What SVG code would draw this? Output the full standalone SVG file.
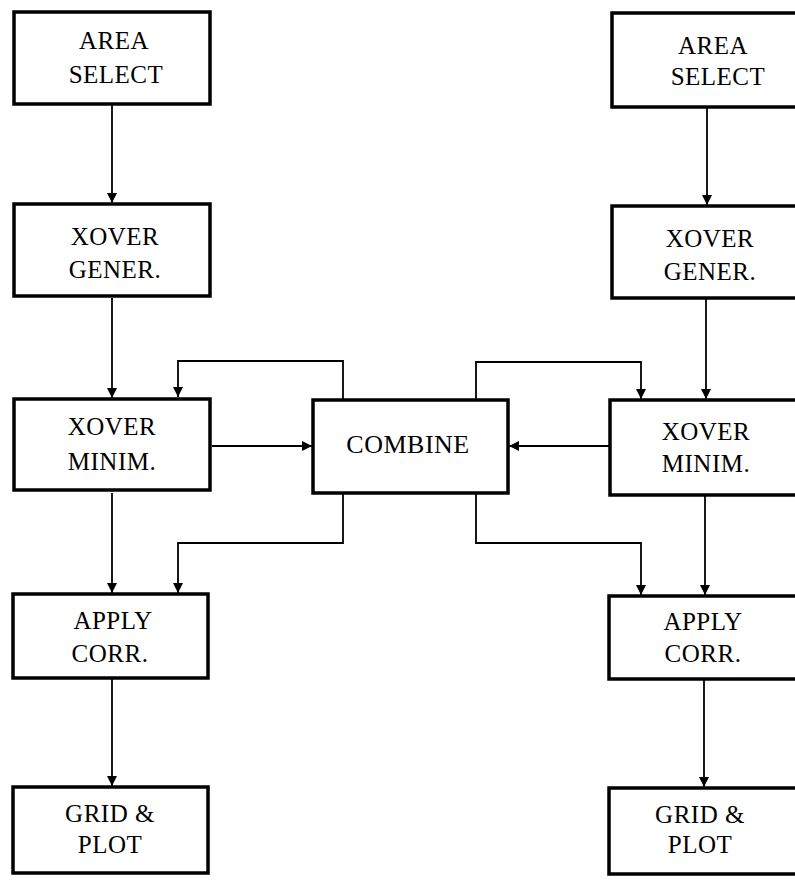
<svg xmlns="http://www.w3.org/2000/svg" width="795" height="881" viewBox="0 0 795 881">
<defs>
<marker id="ah" viewBox="0 0 10 12" refX="10" refY="6" markerWidth="10" markerHeight="12" markerUnits="userSpaceOnUse" orient="auto">
<path d="M0,1 L10,6 L0,11 Z" fill="#000"/>
</marker>
<style>
.box{fill:#fff;stroke:#000;stroke-width:3.5}
.t{font-family:"Liberation Serif","Times New Roman",serif;font-size:25px;fill:#000;text-anchor:middle;letter-spacing:0.5px}
.c{fill:none;stroke:#000;stroke-width:1.8;marker-end:url(#ah)}
</style>
</defs>
<rect width="795" height="881" fill="#fff"/>
<g id="connectors">
<path class="c" d="M112,105 V203"/>
<path class="c" d="M112,298 V398"/>
<path class="c" d="M112,493 V593"/>
<path class="c" d="M112,679 V786"/>
<path class="c" d="M707,108 V205"/>
<path class="c" d="M706,299 V399"/>
<path class="c" d="M705,496 V595"/>
<path class="c" d="M704,680 V787"/>
<path class="c" d="M212,446 H312"/>
<path class="c" d="M609,446 H509"/>
<path class="c" d="M343,399 V361 H178 V397"/>
<path class="c" d="M476,399 V362 H641 V399"/>
<path class="c" d="M343,494 V543 H178 V593"/>
<path class="c" d="M476,494 V543 H641 V595"/>
</g>
<g id="area-select-left"><rect class="box" x="14" y="12" width="196" height="92"/><text class="t" x="114" y="49">AREA</text><text class="t" x="116" y="83">SELECT</text></g>
<g id="xover-gener-left"><rect class="box" x="14" y="204" width="196" height="92"/><text class="t" x="115" y="245">XOVER</text><text class="t" x="115" y="278">GENER.</text></g>
<g id="xover-minim-left"><rect class="box" x="14" y="399" width="196" height="91"/><text class="t" x="112" y="435">XOVER</text><text class="t" x="112" y="470">MINIM.</text></g>
<g id="apply-corr-left"><rect class="box" x="13" y="594" width="195" height="84"/><text class="t" x="113" y="629">APPLY</text><text class="t" x="110" y="662">CORR.</text></g>
<g id="grid-plot-left"><rect class="box" x="13" y="787" width="195" height="86"/><text class="t" x="110" y="822">GRID &amp;</text><text class="t" x="110" y="853">PLOT</text></g>
<g id="combine"><rect class="box" x="313" y="400" width="195" height="93"/><text class="t" x="408" y="453" style="font-size:26px">COMBINE</text></g>
<g id="area-select-right"><rect class="box" x="612" y="13" width="200" height="94"/><text class="t" x="713" y="54">AREA</text><text class="t" x="718" y="85">SELECT</text></g>
<g id="xover-gener-right"><rect class="box" x="612" y="206" width="200" height="92"/><text class="t" x="710" y="247">XOVER</text><text class="t" x="710" y="280">GENER.</text></g>
<g id="xover-minim-right"><rect class="box" x="610" y="400" width="200" height="95"/><text class="t" x="706" y="440">XOVER</text><text class="t" x="706" y="472">MINIM.</text></g>
<g id="apply-corr-right"><rect class="box" x="609" y="596" width="200" height="83"/><text class="t" x="703" y="630">APPLY</text><text class="t" x="703" y="662">CORR.</text></g>
<g id="grid-plot-right"><rect class="box" x="609" y="788" width="200" height="86"/><text class="t" x="700" y="823">GRID &amp;</text><text class="t" x="700" y="853">PLOT</text></g>
</svg>
